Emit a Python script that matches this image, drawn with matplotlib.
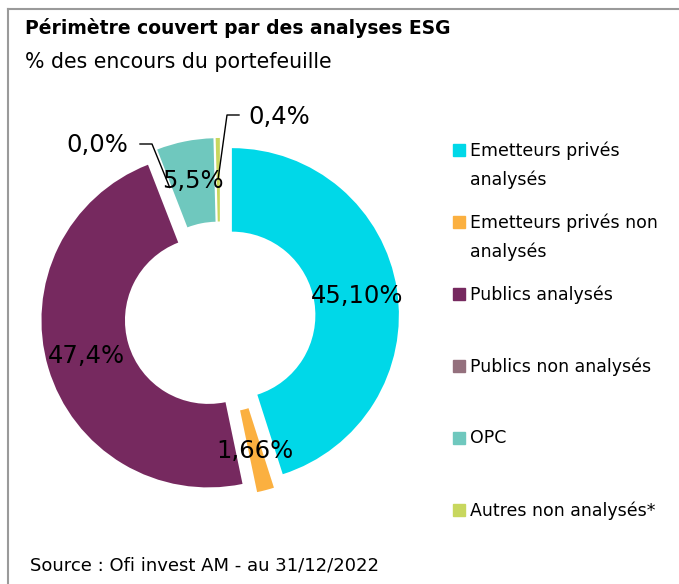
import numpy as np
import matplotlib
matplotlib.use("Agg")
import matplotlib.pyplot as plt
from matplotlib.patches import Rectangle
from matplotlib.lines import Line2D

# data
categories = ["Emetteurs privés\nanalysés", "Emetteurs privés non\nanalysés",
              "Publics analysés", "Publics non analysés", "OPC",
              "Autres non analysés*"]
values = [45.10, 1.66, 47.4, 0.0, 5.5, 0.4]
value_labels = ["45,10%", "1,66%", "47,4%", "0,0%", "5,5%", "0,4%"]
colors = ["#00D8E8", "#FBB040", "#76295F", "#94707D", "#6FC8BE", "#C8D75E"]

W, H = 679, 584
fig = plt.figure(figsize=(W / 100, H / 100), dpi=100)

# axes covering the whole figure, 1 data unit = R pixels
R = 167.0
cx, cy = 220.0, 317.0
ax = fig.add_axes([0, 0, 1, 1])
wedges, _ = ax.pie(values, colors=colors, startangle=90, counterclock=False,
                   explode=[0.072] * len(values), radius=1.0,
                   wedgeprops=dict(width=0.5, linewidth=0))
ax.set_xlim(-cx / R, (W - cx) / R)
ax.set_ylim(-(H - cy) / R, cy / R)
ax.set_aspect("auto")
ax.axis("off")

label_font = "DejaVu Sans"
head_font = "DejaVu Sans"


def mid_point(w, r):
    ang = np.deg2rad((w.theta1 + w.theta2) / 2)
    return w.center[0] + r * np.cos(ang), w.center[1] + r * np.sin(ang)


# labels inside the ring
for i, w in enumerate(wedges):
    if i in (3, 5):
        continue
    x, y = mid_point(w, 0.76)
    ax.text(x, y, value_labels[i], ha="center", va="center", fontsize=17.5,
            family=label_font, color="black")

# small slices: labels outside with leader lines
def px(x, y):
    return (x - cx) / R, (cy - y) / R

for i, knee, tail, txt in [(3, (152, 144), (140, 144), (97, 145)),
                           (5, (227, 115), (239, 115), (279, 117))]:
    x0, y0 = mid_point(wedges[i], 0.76)
    kx, ky = px(*knee)
    tx, ty = px(*tail)
    ax.plot([x0, kx, tx], [y0, ky, ty], color="black", lw=1)
    lx, ly = px(*txt)
    ax.text(lx, ly, value_labels[i], ha="center", va="center", fontsize=17.5,
            family=label_font, color="black")

# legend drawn by hand so the squares sit on the first line
for i, (lab, col) in enumerate(zip(categories, colors)):
    ytop = 150 + i * 72
    fig.patches.append(Rectangle((453 / W, 1 - (ytop + 6) / H), 12 / W, 12 / H,
                                 transform=fig.transFigure, color=col))
    fig.text(470 / W, 1 - (ytop - 9) / H, lab, ha="left", va="top",
             fontsize=12.5, family=label_font, linespacing=1.75)

# frame lines (top and left)
fig.add_artist(Line2D([8 / W, 1], [1 - 9 / H, 1 - 9 / H], color="#9a9a9a", lw=1.5,
                      transform=fig.transFigure))
fig.add_artist(Line2D([8 / W, 8 / W], [0, 1 - 9 / H], color="#9a9a9a", lw=1.5,
                      transform=fig.transFigure))

fig.text(25 / W, 1 - 28 / H, "Périmètre couvert par des analyses ESG",
         ha="left", va="center", fontsize=13.5, fontweight="bold", family=head_font)
fig.text(25 / W, 1 - 62 / H, "% des encours du portefeuille",
         ha="left", va="center", fontsize=14.8, family=head_font)
fig.text(30 / W, 1 - 566 / H, "Source : Ofi invest AM - au 31/12/2022",
         ha="left", va="center", fontsize=13, family=head_font)

fig.savefig("out.png", dpi=100)
